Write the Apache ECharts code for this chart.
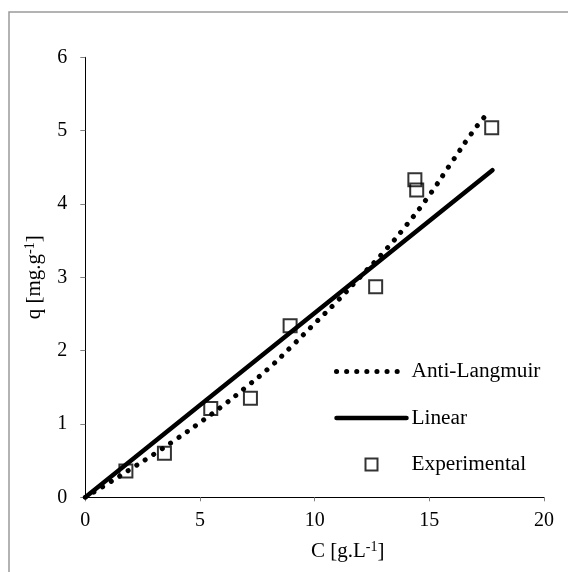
<!DOCTYPE html>
<html>
<head>
<meta charset="utf-8">
<script src="https://cdn.jsdelivr.net/npm/echarts@6/dist/echarts.min.js"></script>
<style>
  html, body { margin: 0; padding: 0; background: #fff; }
  #chart { width: 568px; height: 572px; }
</style>
</head>
<body>
<div id="chart"></div>
<script>
// Experimental isotherm points: concentration C [g/L] vs. loading q [mg/g]
const expC = [1.77, 3.45, 5.47, 7.20, 8.93, 12.66, 14.37, 14.45, 17.72];
const expQ = [0.36, 0.60, 1.21, 1.35, 2.34, 2.87, 4.33, 4.19, 5.04];

// Anti-Langmuir fitted curve, sampled along C
const antiC = [0, 1, 2, 3, 4, 5, 6, 7, 8, 9, 10, 11, 12, 13, 14, 15, 16, 17, 17.5];
const antiQ = [0, 0.19, 0.39, 0.59, 0.80, 1.02, 1.25, 1.50, 1.76, 2.06, 2.37, 2.68, 3.01, 3.34, 3.71, 4.12, 4.58, 5.03, 5.22];

// Linear fit end points
const linC = [0, 17.75];
const linQ = [0, 4.46];

// Axis ticks
const xTicks = [0, 5, 10, 15, 20];
const yTicks = [0, 1, 2, 3, 4, 5, 6];

const seriesNames = ['Anti-Langmuir', 'Linear', 'Experimental'];

const FONT = "'Liberation Serif', 'Times New Roman', serif";
const zip = (a, b) => a.map((v, i) => [v, b[i]]);

const chart = echarts.init(document.getElementById('chart'), null, { renderer: 'canvas' });

const axisNameRich = {
  a: { fontFamily: FONT, fontSize: 21, color: '#000', lineHeight: 23 },
  s: { fontFamily: FONT, fontSize: 14, color: '#000', verticalAlign: 'top', lineHeight: 23 }
};

// shared stroke styles for the fitted curves
const dottedStyle = { color: '#000', width: 5, type: [0.1, 10], cap: 'round' };
const solidStyle = { color: '#000', width: 4.5, type: 'solid', cap: 'round' };

// line entries in the legend show only their stroke, no marker
const hiddenMarker = { color: 'rgba(0,0,0,0)', borderWidth: 0, opacity: 0 };

chart.setOption({
  animation: false,
  backgroundColor: '#fff',
  textStyle: { fontFamily: FONT },
  graphic: [{
    type: 'rect',
    shape: { x: 9, y: 12, width: 700, height: 700 },
    style: { fill: 'none', stroke: '#9a9a9a', lineWidth: 1.5 },
    silent: true,
    z: -1
  }],
  grid: { left: 85.3, right: 24, top: 57.3, bottom: 74.7, containLabel: false },
  legend: {
    orient: 'vertical',
    left: 334,
    top: 361,
    padding: 0,
    itemWidth: 70,
    itemHeight: 12,
    itemGap: 25.5,
    symbolKeepAspect: true,
    data: [
      { name: seriesNames[0], itemStyle: hiddenMarker, lineStyle: dottedStyle },
      { name: seriesNames[1], itemStyle: hiddenMarker, lineStyle: solidStyle },
      { name: seriesNames[2], icon: 'path://M0,0H10V10H0Z' }
    ],
    textStyle: { fontFamily: FONT, fontSize: 21.3, color: '#000' }
  },
  xAxis: {
    type: 'value',
    min: xTicks[0],
    max: xTicks[xTicks.length - 1],
    interval: xTicks[1] - xTicks[0],
    name: '{a|C [g.L}{s|-1}{a|]}',
    nameLocation: 'middle',
    nameGap: 43,
    nameTextStyle: { rich: axisNameRich, padding: [0, 0, 0, 66] },
    axisLine: { show: true, onZero: false, lineStyle: { color: '#000', width: 1 } },
    axisTick: { show: true, inside: false, length: 4, lineStyle: { color: '#808080' } },
    axisLabel: { margin: 13, fontFamily: FONT, fontSize: 20, color: '#000' },
    splitLine: { show: false }
  },
  yAxis: {
    type: 'value',
    min: yTicks[0],
    max: yTicks[yTicks.length - 1],
    interval: yTicks[1] - yTicks[0],
    name: '{a|q [mg.g}{s|-1}{a|]}',
    nameLocation: 'middle',
    nameGap: 39,
    nameRotate: 90,
    nameTextStyle: { rich: axisNameRich },
    axisLine: { show: true, onZero: false, lineStyle: { color: '#000', width: 1 } },
    axisTick: { show: true, inside: false, length: 5, lineStyle: { color: '#808080' } },
    axisLabel: { margin: 18, fontFamily: FONT, fontSize: 20, color: '#000' },
    splitLine: { show: false }
  },
  series: [
    {
      name: seriesNames[0],
      type: 'line',
      data: zip(antiC, antiQ),
      smooth: true,
      showSymbol: false,
      symbol: 'none',
      lineStyle: dottedStyle,
      itemStyle: { color: '#000' },
      z: 3
    },
    {
      name: seriesNames[1],
      type: 'line',
      data: zip(linC, linQ),
      showSymbol: false,
      symbol: 'none',
      lineStyle: solidStyle,
      itemStyle: { color: '#000' },
      z: 3
    },
    {
      name: seriesNames[2],
      type: 'scatter',
      data: zip(expC, expQ),
      symbol: 'rect',
      symbolSize: 13,
      itemStyle: { color: 'rgba(255,255,255,0)', borderColor: '#000', borderWidth: 2 },
      z: 2
    }
  ]
});
</script>
</body>
</html>
